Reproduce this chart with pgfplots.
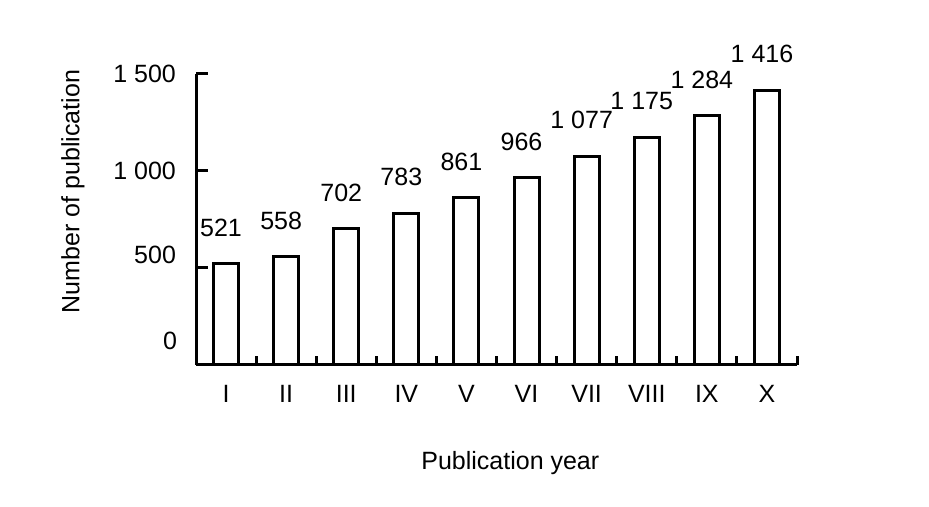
\documentclass[border=0pt]{standalone}
\usepackage{fontspec}
\setmainfont{Liberation Sans}
\usepackage{pgfplots}
\pgfplotsset{compat=1.18}
\begin{document}
\begin{tikzpicture}
\begin{axis}[
  scale only axis,
  width=300.5pt, height=145.5pt,
  xmin=0.5, xmax=10.5, ymin=0, ymax=1500,
  axis lines=left,
  axis line style={-, line width=1.5pt},
  tick align=inside,
  tick style={line width=1.5pt, black},
  major tick length=6pt,
  minor tick length=4.5pt,
  xtick={1,...,10},
  xticklabels={I,II,III,IV,V,VI,VII,VIII,IX,X},
  major x tick style={draw=none},
  minor xtick={1.5,2.5,...,10.5},
  ytick={1000,1500},
  extra y ticks={500},
  extra y tick style={yticklabel style={yshift=6.5pt}},
  font=\fontsize{12.5}{15}\selectfont,
  ticklabel style={font=\fontsize{12.5}{15}\selectfont},
  xticklabel style={yshift=-6.5pt},
  yticklabel style={xshift=-6.5pt},
  /pgf/number format/assume math mode=true,
  /pgf/number format/1000 sep={\ },
  xlabel={Publication year},
  ylabel={Number of publication},
  xlabel style={at={(axis description cs:0.523,-0.337)}, anchor=center},
  ylabel style={at={(axis description cs:-0.205,0.596)}, anchor=center},
  nodes near coords,
  every node near coord/.append style={anchor=center, yshift=18pt, xshift=-2.5pt,
    font=\fontsize{12.5}{15}\selectfont},
]
\addplot[ybar, bar width=12.5pt, draw=black, fill=white, line width=1.5pt]
  coordinates {(1,521) (2,558) (3,702) (4,783) (5,861) (6,966) (7,1077) (8,1175) (9,1284) (10,1416)};
\coordinate (ll) at (rel axis cs:0,0);
\end{axis}
% the zero label sits higher than its tick in the reference
\node[anchor=east, font=\fontsize{12.5}{15}\selectfont] at ([xshift=-6pt, yshift=12pt]ll) {0};
\pgfresetboundingbox
\path (ll) ++(-98pt,-71pt) rectangle ++(464.5pt,253.5pt);
\end{tikzpicture}
\end{document}
